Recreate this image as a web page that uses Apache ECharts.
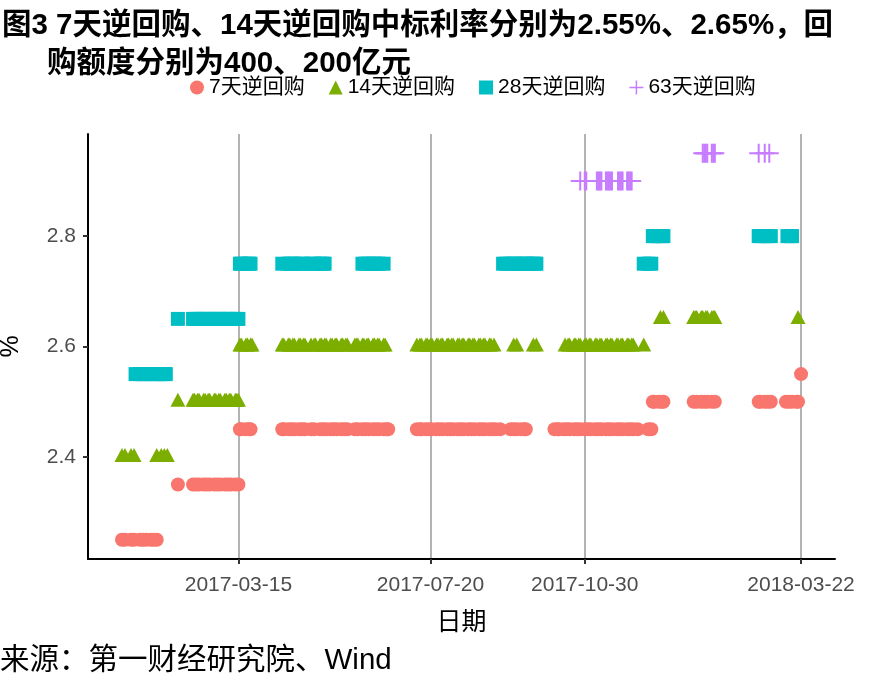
<!DOCTYPE html>
<html><head><meta charset="utf-8">
<script src="https://cdn.jsdelivr.net/npm/echarts@6/dist/echarts.min.js"></script>
<style>html,body{margin:0;padding:0;background:#fff}#c{width:885px;height:688px}</style>
</head><body><div id="c"></div>
<script>
const titleLine1 = '图3 7天逆回购、14天逆回购中标利率分别为2.55%、2.65%，回';
const titleLine2 = '购额度分别为400、200亿元';
const sourceText = '来源：第一财经研究院、Wind';
const seriesNames = ['7天逆回购', '14天逆回购', '28天逆回购', '63天逆回购'];
const xTickLabels = ['2017-03-15', '2017-07-20', '2017-10-30', '2018-03-22'];
const yTickLabels = [2.4, 2.6, 2.8];

// 7天逆回购 [date, rate %]
const repo7 = [
 ['2016-12-28',2.25],['2016-12-30',2.25],['2017-01-03',2.25],['2017-01-05',2.25],['2017-01-09',2.25],['2017-01-11',2.25],['2017-01-13',2.25],['2017-01-16',2.25],['2017-01-18',2.25],['2017-01-20',2.25],
 ['2017-02-03',2.35],['2017-02-13',2.35],['2017-02-15',2.35],['2017-02-17',2.35],['2017-02-20',2.35],['2017-02-22',2.35],['2017-02-24',2.35],['2017-02-27',2.35],['2017-03-01',2.35],['2017-03-03',2.35],['2017-03-06',2.35],['2017-03-08',2.35],['2017-03-10',2.35],['2017-03-13',2.35],['2017-03-15',2.35],
 ['2017-03-16',2.45],['2017-03-17',2.45],['2017-03-20',2.45],['2017-03-22',2.45],['2017-03-23',2.45],
 ['2017-04-13',2.45],['2017-04-14',2.45],['2017-04-17',2.45],['2017-04-19',2.45],['2017-04-21',2.45],['2017-04-24',2.45],['2017-04-26',2.45],['2017-04-28',2.45],['2017-05-02',2.45],['2017-05-04',2.45],['2017-05-08',2.45],['2017-05-10',2.45],['2017-05-12',2.45],['2017-05-15',2.45],['2017-05-17',2.45],['2017-05-19',2.45],['2017-05-22',2.45],['2017-05-24',2.45],['2017-05-26',2.45],['2017-05-31',2.45],['2017-06-02',2.45],['2017-06-05',2.45],['2017-06-07',2.45],['2017-06-09',2.45],['2017-06-12',2.45],['2017-06-14',2.45],['2017-06-16',2.45],['2017-06-19',2.45],['2017-06-21',2.45],['2017-06-22',2.45],
 ['2017-07-11',2.45],['2017-07-13',2.45],['2017-07-14',2.45],['2017-07-17',2.45],['2017-07-19',2.45],['2017-07-21',2.45],['2017-07-24',2.45],['2017-07-26',2.45],['2017-07-28',2.45],['2017-07-31',2.45],['2017-08-02',2.45],['2017-08-04',2.45],['2017-08-07',2.45],['2017-08-09',2.45],['2017-08-11',2.45],['2017-08-14',2.45],['2017-08-16',2.45],['2017-08-18',2.45],['2017-08-21',2.45],['2017-08-23',2.45],['2017-08-25',2.45],['2017-08-28',2.45],['2017-08-30',2.45],['2017-09-01',2.45],['2017-09-04',2.45],['2017-09-11',2.45],['2017-09-13',2.45],['2017-09-15',2.45],['2017-09-18',2.45],['2017-09-20',2.45],['2017-09-21',2.45],
 ['2017-10-10',2.45],['2017-10-12',2.45],['2017-10-13',2.45],['2017-10-16',2.45],['2017-10-18',2.45],['2017-10-20',2.45],['2017-10-23',2.45],['2017-10-25',2.45],['2017-10-27',2.45],['2017-10-30',2.45],['2017-11-01',2.45],['2017-11-03',2.45],['2017-11-06',2.45],['2017-11-08',2.45],['2017-11-10',2.45],['2017-11-13',2.45],['2017-11-15',2.45],['2017-11-17',2.45],['2017-11-20',2.45],['2017-11-22',2.45],['2017-11-24',2.45],['2017-11-27',2.45],['2017-11-29',2.45],['2017-12-01',2.45],['2017-12-04',2.45],['2017-12-11',2.45],['2017-12-13',2.45],
 ['2017-12-14',2.50],['2017-12-15',2.50],['2017-12-18',2.50],['2017-12-20',2.50],['2017-12-21',2.50],
 ['2018-01-10',2.50],['2018-01-12',2.50],['2018-01-15',2.50],['2018-01-17',2.50],['2018-01-19',2.50],['2018-01-22',2.50],['2018-01-24',2.50],
 ['2018-02-22',2.50],['2018-02-23',2.50],['2018-02-26',2.50],['2018-02-28',2.50],['2018-03-02',2.50],
 ['2018-03-12',2.50],['2018-03-14',2.50],['2018-03-16',2.50],['2018-03-19',2.50],['2018-03-20',2.50],
 ['2018-03-22',2.55]
];

// 14天逆回购
const repo14 = [
 ['2016-12-28',2.40],['2016-12-30',2.40],['2017-01-03',2.40],['2017-01-05',2.40],['2017-01-20',2.40],['2017-01-23',2.40],['2017-01-25',2.40],['2017-01-27',2.40],
 ['2017-02-03',2.50],
 ['2017-02-13',2.50],['2017-02-14',2.50],['2017-02-16',2.50],['2017-02-17',2.50],['2017-02-20',2.50],['2017-02-21',2.50],['2017-02-23',2.50],['2017-02-24',2.50],['2017-02-27',2.50],['2017-02-28',2.50],['2017-03-02',2.50],['2017-03-03',2.50],['2017-03-06',2.50],['2017-03-07',2.50],['2017-03-09',2.50],['2017-03-10',2.50],['2017-03-13',2.50],['2017-03-14',2.50],['2017-03-15',2.50],
 ['2017-03-16',2.60],['2017-03-17',2.60],['2017-03-20',2.60],['2017-03-21',2.60],['2017-03-23',2.60],['2017-03-24',2.60],
 ['2017-04-13',2.60],['2017-04-14',2.60],['2017-04-17',2.60],['2017-04-18',2.60],['2017-04-20',2.60],['2017-04-21',2.60],['2017-04-24',2.60],['2017-04-25',2.60],['2017-04-27',2.60],['2017-04-28',2.60],['2017-05-02',2.60],['2017-05-04',2.60],['2017-05-05',2.60],['2017-05-08',2.60],['2017-05-09',2.60],['2017-05-11',2.60],['2017-05-12',2.60],['2017-05-15',2.60],['2017-05-16',2.60],['2017-05-18',2.60],['2017-05-19',2.60],['2017-05-22',2.60],['2017-05-23',2.60],['2017-05-25',2.60],['2017-05-26',2.60],['2017-05-31',2.60],['2017-06-01',2.60],['2017-06-02',2.60],['2017-06-05',2.60],['2017-06-06',2.60],['2017-06-08',2.60],['2017-06-09',2.60],['2017-06-12',2.60],['2017-06-13',2.60],['2017-06-15',2.60],['2017-06-16',2.60],['2017-06-19',2.60],['2017-06-20',2.60],
 ['2017-07-11',2.60],['2017-07-13',2.60],['2017-07-14',2.60],['2017-07-17',2.60],['2017-07-18',2.60],['2017-07-20',2.60],['2017-07-21',2.60],['2017-07-24',2.60],['2017-07-25',2.60],['2017-07-27',2.60],['2017-07-28',2.60],['2017-07-31',2.60],['2017-08-01',2.60],['2017-08-03',2.60],['2017-08-04',2.60],['2017-08-07',2.60],['2017-08-08',2.60],['2017-08-10',2.60],['2017-08-11',2.60],['2017-08-14',2.60],['2017-08-15',2.60],['2017-08-17',2.60],['2017-08-18',2.60],['2017-08-21',2.60],['2017-08-22',2.60],['2017-08-24',2.60],['2017-08-25',2.60],['2017-08-28',2.60],['2017-08-29',2.60],['2017-08-31',2.60],
 ['2017-09-13',2.60],['2017-09-15',2.60],['2017-09-26',2.60],['2017-09-28',2.60],
 ['2017-10-17',2.60],['2017-10-19',2.60],['2017-10-20',2.60],['2017-10-23',2.60],['2017-10-24',2.60],['2017-10-26',2.60],['2017-10-27',2.60],['2017-10-30',2.60],['2017-10-31',2.60],['2017-11-02',2.60],['2017-11-03',2.60],['2017-11-06',2.60],['2017-11-07',2.60],['2017-11-09',2.60],['2017-11-10',2.60],['2017-11-13',2.60],['2017-11-14',2.60],['2017-11-16',2.60],['2017-11-17',2.60],['2017-11-20',2.60],['2017-11-21',2.60],['2017-11-23',2.60],['2017-11-24',2.60],['2017-11-27',2.60],['2017-11-28',2.60],['2017-11-30',2.60],['2017-12-01',2.60],['2017-12-08',2.60],
 ['2017-12-19',2.65],['2017-12-21',2.65],
 ['2018-01-10',2.65],['2018-01-11',2.65],['2018-01-12',2.65],['2018-01-15',2.65],['2018-01-16',2.65],['2018-01-18',2.65],['2018-01-19',2.65],['2018-01-22',2.65],['2018-01-23',2.65],['2018-01-24',2.65],
 ['2018-03-20',2.65]
];

// 28天逆回购
const repo28 = [
 ['2017-01-06',2.55],['2017-01-09',2.55],['2017-01-11',2.55],['2017-01-13',2.55],['2017-01-16',2.55],['2017-01-18',2.55],['2017-01-20',2.55],['2017-01-23',2.55],['2017-01-25',2.55],['2017-01-26',2.55],
 ['2017-02-03',2.65],['2017-02-13',2.65],['2017-02-15',2.65],['2017-02-17',2.65],['2017-02-20',2.65],['2017-02-22',2.65],['2017-02-24',2.65],['2017-02-27',2.65],['2017-03-01',2.65],['2017-03-03',2.65],['2017-03-06',2.65],['2017-03-08',2.65],['2017-03-10',2.65],['2017-03-13',2.65],['2017-03-15',2.65],
 ['2017-03-16',2.75],['2017-03-17',2.75],['2017-03-20',2.75],['2017-03-22',2.75],['2017-03-23',2.75],
 ['2017-04-13',2.75],['2017-04-17',2.75],['2017-04-19',2.75],['2017-04-21',2.75],['2017-04-25',2.75],['2017-04-27',2.75],['2017-05-02',2.75],['2017-05-04',2.75],['2017-05-08',2.75],['2017-05-10',2.75],['2017-05-11',2.75],
 ['2017-06-05',2.75],['2017-06-07',2.75],['2017-06-09',2.75],['2017-06-12',2.75],['2017-06-14',2.75],['2017-06-16',2.75],['2017-06-19',2.75],
 ['2017-09-06',2.75],['2017-09-08',2.75],['2017-09-11',2.75],['2017-09-13',2.75],['2017-09-15',2.75],['2017-09-18',2.75],['2017-09-20',2.75],['2017-09-22',2.75],['2017-09-25',2.75],['2017-09-27',2.75],['2017-09-28',2.75],
 ['2017-12-08',2.75],['2017-12-11',2.75],['2017-12-13',2.75],
 ['2017-12-14',2.80],['2017-12-15',2.80],['2017-12-18',2.80],['2017-12-20',2.80],['2017-12-21',2.80],
 ['2018-02-22',2.80],['2018-02-23',2.80],['2018-02-26',2.80],['2018-02-28',2.80],['2018-03-02',2.80],
 ['2018-03-13',2.80],['2018-03-15',2.80],['2018-03-16',2.80]
];

// 63天逆回购
const repo63 = [
 ['2017-10-27',2.90],['2017-10-30',2.90],['2017-10-31',2.90],
 ['2017-11-07',2.90],['2017-11-08',2.90],['2017-11-09',2.90],['2017-11-10',2.90],
 ['2017-11-13',2.90],['2017-11-14',2.90],['2017-11-15',2.90],['2017-11-16',2.90],['2017-11-17',2.90],
 ['2017-11-21',2.90],['2017-11-22',2.90],['2017-11-23',2.90],['2017-11-24',2.90],
 ['2017-11-27',2.90],['2017-11-28',2.90],['2017-11-29',2.90],['2017-11-30',2.90],
 ['2018-01-16',2.95],['2018-01-17',2.95],['2018-01-18',2.95],['2018-01-19',2.95],
 ['2018-01-22',2.95],['2018-01-23',2.95],['2018-01-24',2.95],
 ['2018-02-22',2.95],['2018-02-26',2.95],['2018-03-01',2.95]
];

const colors = ['#F8766D', '#7CAE00', '#00BFC4', '#C77CFF'];
const FONT = '"Liberation Sans", Arial, "Noto Sans CJK SC", sans-serif';

function ts(s) {
  const p = s.split(/[- :]/).map(Number);
  return Date.UTC(p[0], p[1] - 1, p[2], p[3] || 0, p[4] || 0);
}
function pad(n) { return n < 10 ? '0' + n : '' + n; }
function fmtDate(v) {
  const d = new Date(Math.round(v));
  return d.getUTCFullYear() + '-' + pad(d.getUTCMonth() + 1) + '-' + pad(d.getUTCDate());
}
const toData = arr => arr.map(p => [ts(p[0]), p[1]]);
const xTicks = xTickLabels.map(ts);
const plusPath = 'path://M8.5,0 H10.5 V8.5 H19 V10.5 H10.5 V19 H8.5 V10.5 H0 V8.5 H8.5 Z';

const chart = echarts.init(document.getElementById('c'), null, { renderer: 'canvas' });
chart.setOption({
  animation: false,
  backgroundColor: '#fff',
  title: [
    { text: titleLine1, left: 2, top: 11, padding: 0, textStyle: { fontSize: 29.5, fontWeight: 'bold', color: '#000', fontFamily: FONT } },
    { text: titleLine2, left: 47, top: 49, padding: 0, textStyle: { fontSize: 29.5, fontWeight: 'bold', color: '#000', fontFamily: FONT } },
    { text: sourceText, left: 0, top: 646, padding: 0, textStyle: { fontSize: 29.5, fontWeight: 'normal', color: '#000', fontFamily: FONT } }
  ],
  legend: {
    left: 185, top: 72, itemWidth: 14, itemHeight: 14, itemGap: 24,
    textStyle: { fontSize: 21, color: '#000', fontFamily: FONT },
    data: seriesNames
  },
  grid: { left: 88, right: 50, top: 134, bottom: 129, outerBoundsMode: 'none', containLabel: false },
  xAxis: {
    type: 'value', min: ts('2016-12-05 13:12'), max: ts('2018-04-13 10:48'),
    name: '日期', nameLocation: 'middle', nameGap: 52,
    nameTextStyle: { fontSize: 25, color: '#000', fontFamily: FONT },
    axisLine: { show: true, onZero: false, lineStyle: { color: '#000', width: 2 } },
    axisTick: { show: true, customValues: xTicks, length: 5, lineStyle: { color: '#333', width: 2 } },
    axisLabel: { customValues: xTicks, formatter: v => fmtDate(v), fontSize: 21, color: '#4d4d4d', margin: 16, fontFamily: FONT },
    splitLine: { show: true, lineStyle: { color: '#b3b3b3', width: 2 } }
  },
  yAxis: {
    type: 'value', min: 2.215, max: 2.985,
    name: '%', nameLocation: 'middle', nameGap: 64, nameRotate: 90,
    nameTextStyle: { fontSize: 25, color: '#000', fontFamily: FONT },
    axisLine: { show: true, onZero: false, lineStyle: { color: '#000', width: 2 } },
    axisTick: { show: true, customValues: yTickLabels, length: 5, lineStyle: { color: '#333', width: 2 } },
    axisLabel: { customValues: yTickLabels, formatter: v => Number(v).toFixed(1), fontSize: 21, color: '#4d4d4d', margin: 12, fontFamily: FONT },
    splitLine: { show: false }
  },
  series: [
    { name: seriesNames[0], type: 'scatter', data: toData(repo7), symbol: 'circle', symbolSize: 14, itemStyle: { color: colors[0], opacity: 1 } },
    { name: seriesNames[1], type: 'scatter', data: toData(repo14), symbol: 'triangle', symbolSize: [15, 14], symbolOffset: [0, -2], itemStyle: { color: colors[1], opacity: 1 } },
    { name: seriesNames[2], type: 'scatter', data: toData(repo28), symbol: 'rect', symbolSize: 14, itemStyle: { color: colors[2], opacity: 1 } },
    { name: seriesNames[3], type: 'scatter', data: toData(repo63), symbol: plusPath, symbolSize: 19, itemStyle: { color: colors[3], opacity: 1 } }
  ]
});
</script>
</body></html>
